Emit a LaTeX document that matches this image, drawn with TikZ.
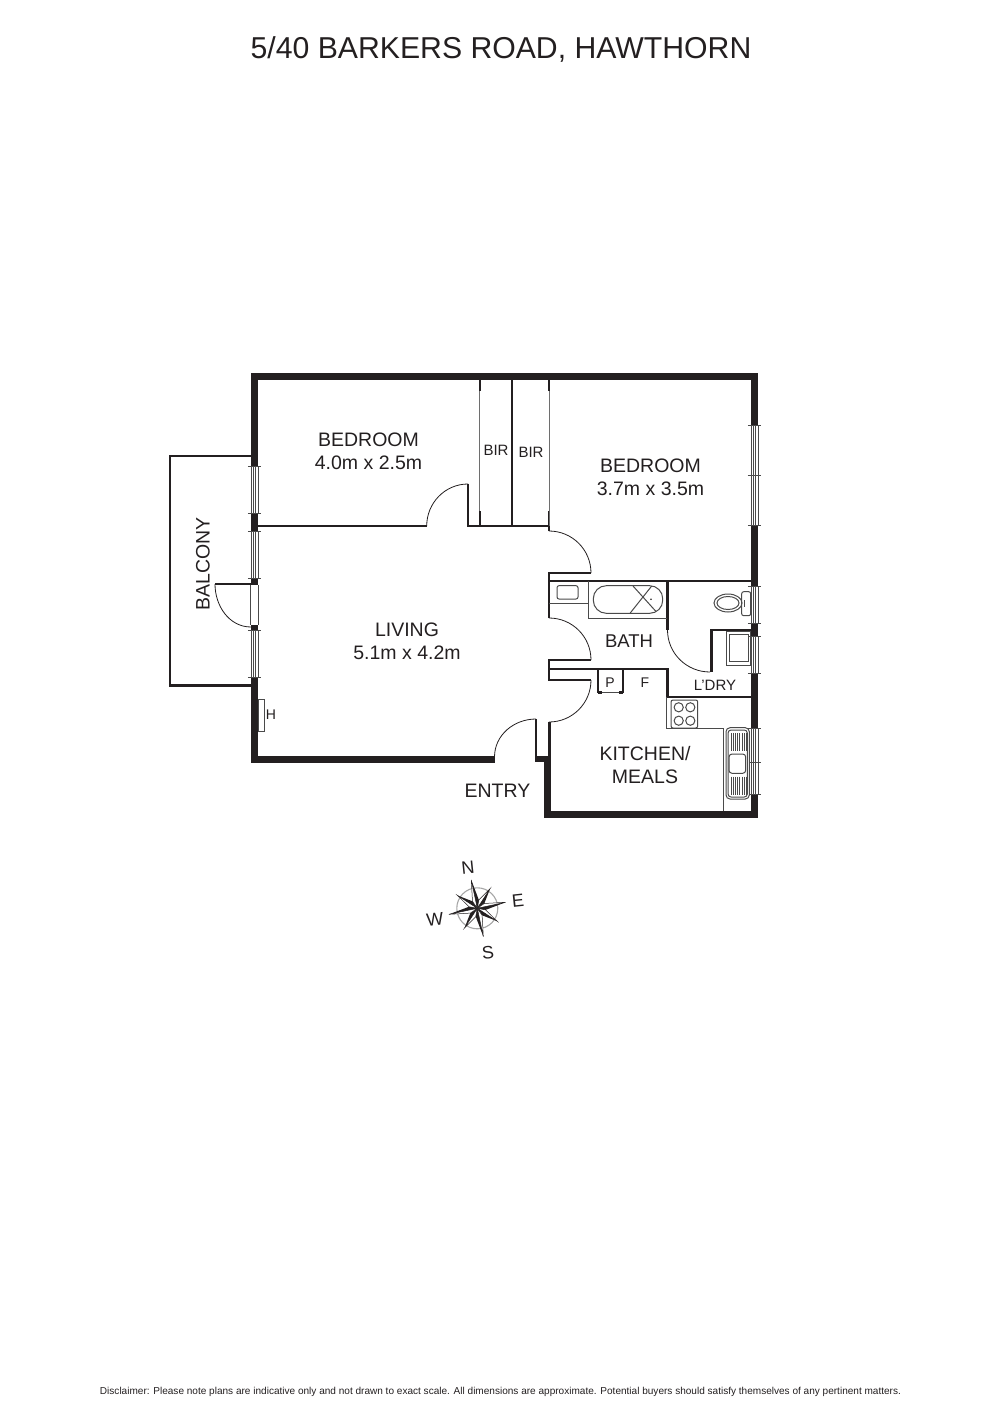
\documentclass[tikz,border=0pt]{standalone}
\usepackage{fontspec}
\setmainfont{Liberation Sans}
\usepackage{xcolor}
\usetikzlibrary{positioning}
\definecolor{planblack}{HTML}{231F20}
\definecolor{fitgrey}{HTML}{4A4A4A}
\tikzstyle{outerwall} = [line width=7pt, draw=planblack]
\tikzstyle{wall} = [line width=2.6pt, draw=planblack]
\tikzstyle{swing} = [line width=0.8pt, draw=planblack]
\tikzstyle{track} = [line width=1pt, draw=fitgrey!80]
\tikzstyle{glass} = [line width=0.7pt, draw=fitgrey]
\tikzstyle{fitting} = [line width=1pt, draw=fitgrey]
\tikzstyle{roomtext} = [text=planblack, inner sep=0pt, font=\fontsize{19.5}{22}\selectfont]
\tikzstyle{smalltext} = [text=planblack, inner sep=0pt, font=\fontsize{15}{17}\selectfont]

\begin{document}
\begin{tikzpicture}[x=1pt, y=-1pt, node distance=23pt]
\useasboundingbox (0,0) rectangle (1000,1415);

% Text
\node (title) [text=planblack, font=\fontsize{30.2}{34}\selectfont] at (501,49) {5/40 BARKERS ROAD, HAWTHORN};
\node (bedroomwest) [roomtext] at (368.5,440) {BEDROOM};
\node (bedroomwestsize) [roomtext, below of=bedroomwest] {4.0m x 2.5m};
\node (bedroomeast) [roomtext] at (650.5,466) {BEDROOM};
\node (bedroomeastsize) [roomtext, below of=bedroomeast] {3.7m x 3.5m};
\node (living) [roomtext] at (407,630) {LIVING};
\node (livingsize) [roomtext, below of=living] {5.1m x 4.2m};
\node (kitchen) [roomtext] at (645,754) {KITCHEN/};
\node (meals) [roomtext, below of=kitchen] {MEALS};
\node (entry) [roomtext] at (497.5,791) {ENTRY};
\node (balcony) [roomtext, rotate=90] at (203,564) {BALCONY};
\node (bath) [roomtext, font=\fontsize{18.5}{21}\selectfont] at (629,641) {BATH};
\node (birwest) [smalltext] at (496,450) {BIR};
\node (bireast) [smalltext] at (531,452) {BIR};
\node (laundry) [smalltext] at (715,685) {L'DRY};
\node (pantry) [smalltext, font=\fontsize{14}{16}\selectfont] at (610,682.5) {P};
\node (fridge) [smalltext, font=\fontsize{14}{16}\selectfont] at (645,682.5) {F};
\node (heater) [smalltext, font=\fontsize{14}{16}\selectfont] at (271,714.5) {H};
\node (disclaimer) [text=planblack, font=\fontsize{10.05}{12}\selectfont] at (500.5,1391.5) {Disclaimer: Please note plans are indicative only and not drawn to exact scale. All dimensions are approximate. Potential buyers should satisfy themselves of any pertinent matters.};

% Outer walls
\draw [outerwall] (254.5,466) -- (254.5,376) -- (754.5,376) -- (754.5,425);
\draw [outerwall] (754.5,525) -- (754.5,586);
\draw [outerwall] (754.5,623) -- (754.5,636);
\draw [outerwall] (754.5,673) -- (754.5,728);
\draw [outerwall] (754.5,794) -- (754.5,814.5) -- (547,814.5) -- (547,756);
\draw [outerwall] (254.5,677) -- (254.5,759) -- (495,759);
\draw [outerwall] (254.5,513) -- (254.5,531);
\draw [outerwall] (254.5,578) -- (254.5,585);
\draw [outerwall] (254.5,625) -- (254.5,630);
\draw [line width=6pt, draw=planblack] (535,759) -- (544,759);

% Windows
\foreach \wx/\wa/\wb in {254.5/466/513, 254.5/531/578, 254.5/630/677, 754.5/425/475, 754.5/475/525, 754.5/586/623, 754.5/636/673, 754.5/728/762, 754.5/762/794} {
  \draw [glass] (\wx-3.6,\wa) -- (\wx-3.6,\wb);
  \draw [glass] (\wx-1,\wa) -- (\wx-1,\wb);
  \draw [glass] (\wx+1,\wa) -- (\wx+1,\wb);
  \draw [glass] (\wx+3.6,\wa) -- (\wx+3.6,\wb);
  \draw [glass] (\wx-6.7,\wa) -- (\wx+6.7,\wa);
  \draw [glass] (\wx-6.7,\wb) -- (\wx+6.7,\wb);
}
\draw [glass] (250.8,585) -- (250.8,625);
\draw [glass] (258.3,585) -- (258.3,625);

% Inner walls
\draw [wall] (258,526) -- (426.7,526);
\draw [wall] (468,483.5) -- (468,526) -- (550,526);
\draw [wall] (512,379) -- (512,526);
\draw [wall] (549,511) -- (549,531);
\draw [wall] (591,573) -- (549,573) -- (549,618);
\draw [wall] (591,660) -- (549,660) -- (549,680) -- (591,680);
\draw [wall] (549,669) -- (667.5,669) -- (667.5,697) -- (751,697);
\draw [wall] (549,581) -- (751,581);
\draw [wall] (667.5,581) -- (667.5,630);
\draw [wall] (711.5,672) -- (711.5,630) -- (751,630);
\draw [wall] (598,669) -- (598,693);
\draw [wall] (623,669) -- (623,693);
\draw [wall] (536,719) -- (536,758);
\draw [wall] (549.3,722) -- (549.3,757);
\draw [wall] (251,456) -- (170,456) -- (170,685.7) -- (251,685.7);
\draw [wall] (215,584) -- (251,584);

% Robe tracks
\foreach \tx in {479.5,549} {
  \draw [track] (\tx,379) -- (\tx,526);
  \draw [line width=2pt, draw=planblack] (\tx,379) -- (\tx,391);
}
\draw [line width=2pt, draw=planblack] (479.5,511) -- (479.5,526);
\draw [fitting] (598,692) -- (623,692);
\draw [line width=2.6pt, draw=planblack] (598,692.5) -- (602,692.5);
\draw [line width=2.6pt, draw=planblack] (619,692.5) -- (623,692.5);

% Door swings
\draw [swing] (426.7,526) to[out=90, in=180] (468,484);
\draw [swing] (549,531) to[out=0, in=90] (591,573);
\draw [swing] (549,618) to[out=0, in=90] (591,660);
\draw [swing] (591,680) to[out=-90, in=0] (549,722);
\draw [swing] (494.5,757) to[out=90, in=180] (536,719);
\draw [swing] (667.5,630) to[out=-90, in=180] (710,672);
\draw [swing] (215,584) to[out=-90, in=180] (251,627);

% Heater
\draw [fitting] (258,699.5) rectangle (264.3,731.5);

% Bath and vanity
\draw [fitting] (549,603) -- (588,603);
\draw [fitting] (588,581) -- (588,618) -- (667,618);
\draw [fitting, rounded corners=2pt] (557,585.7) rectangle (578,599);
\draw [fitting, rounded corners=13pt] (593.3,585.7) rectangle (662.7,613.3);
\draw [fitting] (633,586) -- (656,611.5);
\draw [fitting] (651.7,586) -- (630,613.3);
\fill [planblack] (651,599.3) circle (0.9pt);

% Toilet
\draw [fitting] (728,603) ellipse (14pt and 9pt);
\draw [fitting] (728,603) ellipse (11pt and 6.5pt);
\draw [fitting, rounded corners=2pt] (741.7,591.7) rectangle (750.7,615.7);
\draw [fitting] (744,600) -- (744,607);

% Trough
\draw [fitting] (726,631.7) rectangle (750,665.7);
\draw [fitting] (729.3,634) rectangle (748,661.7);

% Kitchen bench and stove
\draw [fitting] (666,697) -- (666,728.5) -- (723.3,728.5) -- (723.3,811);
\draw [fitting, rounded corners=2pt] (671,700) rectangle (697.7,728);
\foreach \sx/\sy in {678.7/707.3, 690.3/707.3, 678.7/720.7, 690.3/720.7} {
  \draw [fitting] (\sx,\sy) circle (4.6pt);
}

% Sink
\draw [fill=white, fitting, rounded corners=4pt] (726,727.7) rectangle (749.3,799);
\draw [fitting, rounded corners=3pt] (728,730) rectangle (747.3,797);
\draw [fitting, rounded corners=3pt] (729,754) rectangle (745.7,773.3);
\foreach \gx in {731,733.2,...,746.5} {
  \draw [fitting, line width=0.7pt] (\gx,733) -- (\gx,750.7);
  \draw [fitting, line width=0.7pt] (\gx,776.7) -- (\gx,795);
}

% Compass
\begin{scope}[shift={(477.3,908.3)}, x=1pt, y=1pt, rotate=12]
\draw [line width=1.1pt, draw=gray!70] (0,0) circle (20.5pt);
\foreach \pa/\pr in {45/23.5, 135/23.5, 225/23.5, 315/23.5, 0/29, 90/29, 180/29, 270/29} {
  \fill [white] (0,0) -- (\pa:\pr pt) -- (\pa+22.5:8.5pt) -- cycle;
  \draw [line width=0.5pt, draw=planblack] (0,0) -- (\pa:\pr pt) -- (\pa+22.5:8.5pt) -- cycle;
  \fill [planblack] (0,0) -- (\pa:\pr pt) -- (\pa-22.5:8.5pt) -- cycle;
}
\end{scope}
\node (north) [smalltext, font=\fontsize{18}{20}\selectfont, rotate=6] at (468,867.5) {N};
\node (east) [smalltext, font=\fontsize{18}{20}\selectfont, rotate=6] at (518,900.5) {E};
\node (south) [smalltext, font=\fontsize{18}{20}\selectfont, rotate=6] at (488,952.5) {S};
\node (west) [smalltext, font=\fontsize{18}{20}\selectfont, rotate=6] at (435,919.5) {W};
\end{tikzpicture}
\end{document}
